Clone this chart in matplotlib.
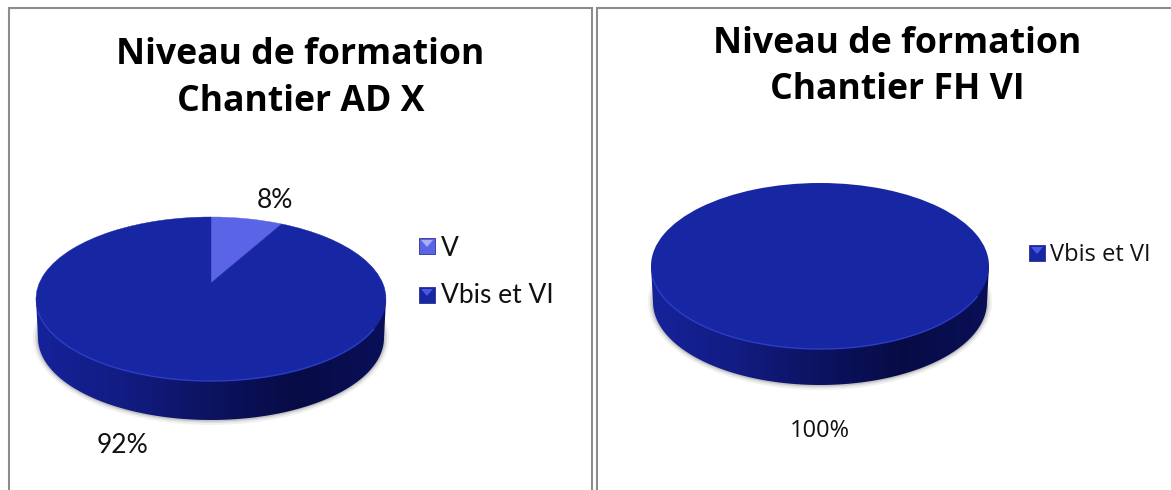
import numpy as np
import matplotlib
matplotlib.use('Agg')
import matplotlib.pyplot as plt
from matplotlib.colors import LinearSegmentedColormap
from matplotlib.patches import Ellipse, Polygon, Rectangle

W, H = 1171, 490

# data
left_categories = ['V', 'Vbis et VI']
left_values = [8, 92]
left_colors = ['#5a64e6', '#1726a3']
right_categories = ['Vbis et VI']
right_values = [100]
right_colors = ['#1726a3']
left_title = 'Niveau de formation\nChantier AD X'
right_title = 'Niveau de formation\nChantier FH VI'

wall_cmap = LinearSegmentedColormap.from_list('wall', ['#16229a', '#121c82', '#0c1360', '#070b45', '#0a1058'])

fig = plt.figure(figsize=(W / 100, H / 100), dpi=100, facecolor='white')
bg = fig.add_axes([0, 0, 1, 1])
bg.set_xlim(0, W)
bg.set_ylim(H, 0)
bg.axis('off')


def draw_pie(values, colors, cx, cy, rx, ry, depth, apex_dy):
    # soft shadow below the wall
    for grow, alpha in [(5, 0.08), (3, 0.12), (1.5, 0.2)]:
        bg.add_patch(Ellipse((cx, cy + depth), 2 * (rx - 2 + grow), 2 * (ry + grow), color='#555555', alpha=alpha, lw=0))

    # side wall, gradient clipped on the outline
    t = np.linspace(0, np.pi, 120)
    lower = np.column_stack([cx + (rx - 2) * np.cos(t), cy + depth + ry * np.sin(t)])
    outline = np.vstack([[cx + rx, cy], lower, [cx - rx, cy]])
    clip = Polygon(outline, closed=True, transform=bg.transData, fc='none', ec='none')
    bg.add_patch(clip)
    grad = np.linspace(0, 1, 256).reshape(1, -1)
    im = bg.imshow(grad, cmap=wall_cmap, extent=[cx - rx, cx + rx, cy + ry + depth + 2, cy - 2], aspect='auto', zorder=2)
    im.set_clip_path(clip)
    bg.set_xlim(0, W)
    bg.set_ylim(H, 0)

    # top face
    ax = fig.add_axes([(cx - rx * 1.05) / W, 1 - (cy + ry * 1.05) / H, 2.1 * rx / W, 2.1 * ry / H])
    wedges, _ = ax.pie(values, colors=colors, startangle=90, counterclock=False, radius=1)
    ax.set_aspect('auto')
    ax.set_xlim(-1.05, 1.05)
    ax.set_ylim(-1.05, 1.05)
    ax.patch.set_alpha(0)
    if len(values) > 1:
        # 3D view: the circle centre sits above the ellipse centre
        a = apex_dy / ry
        inv = ax.transData.inverted()
        for w, col in zip(wedges, colors):
            poly = w.get_path().to_polygons(transform=ax.transData)[0]
            xy = inv.transform(poly)
            den = 1 + a * xy[:, 1]
            xy2 = np.column_stack([xy[:, 0] * np.sqrt(1 - a * a) / den, (xy[:, 1] + a) / den])
            w.set_visible(False)
            ax.add_patch(Polygon(xy2, closed=True, fc=col, ec=col, lw=0.3))

    # light rim on the front edge
    t = np.linspace(0.12 * np.pi, 0.95 * np.pi, 120)
    ax.plot(np.cos(t), -np.sin(t), color='#2c3ec8', lw=1.0)
    return ax


def legend_mark(x, y, color, tri):
    bg.add_patch(Rectangle((x, y), 16, 16, fc=color, ec='#2a3190', lw=0.6, zorder=3))
    bg.add_patch(Polygon([[x + 2, y + 2], [x + 14, y + 2], [x + 8, y + 9]], fc=tri, ec='none', zorder=4))


# frames
frame = '#8c8c8c'
bg.plot([9, 9, 592, 592], [H, 8.5, 8.5, H], color=frame, lw=1.5, solid_joinstyle='miter')
bg.plot([W, 597, 597], [8.5, 8.5, H], color=frame, lw=1.5, solid_joinstyle='miter')

draw_pie(left_values, left_colors, 211, 299, 175, 82, 39, 16)
draw_pie(right_values, right_colors, 820, 266, 169, 83, 36, 0)

# titles
bg.text(300.5, 78.5, left_title, ha='center', va='center', fontsize=25.7, fontweight='bold', family='Open Sans', linespacing=1.4, color='black')
bg.text(897, 67, right_title, ha='center', va='center', fontsize=25.7, fontweight='bold', family='Open Sans', linespacing=1.4, color='black')

# value labels
bg.text(275, 200, f'{left_values[0]}%', ha='center', va='center', fontsize=19, family='Lato', color='#111111')
bg.text(123, 445, f'{left_values[1]}%', ha='center', va='center', fontsize=19, family='Lato', color='#111111')
bg.text(820, 431, f'{right_values[0]}%', ha='center', va='center', fontsize=17, family='Open Sans', color='#111111')

# legends
legend_mark(419, 238, left_colors[0], '#a8aef5')
bg.text(441, 248, left_categories[0], ha='left', va='center', fontsize=19, family='Lato', color='#111111')
legend_mark(419, 287, left_colors[1], '#4a58e0')
bg.text(441, 295, left_categories[1], ha='left', va='center', fontsize=19, family='Lato', color='#111111')
legend_mark(1029, 245, right_colors[0], '#4a58e0')
bg.text(1050, 255, right_categories[0], ha='left', va='center', fontsize=17, family='Open Sans', color='#111111')

fig.savefig('out.png', dpi=100)
